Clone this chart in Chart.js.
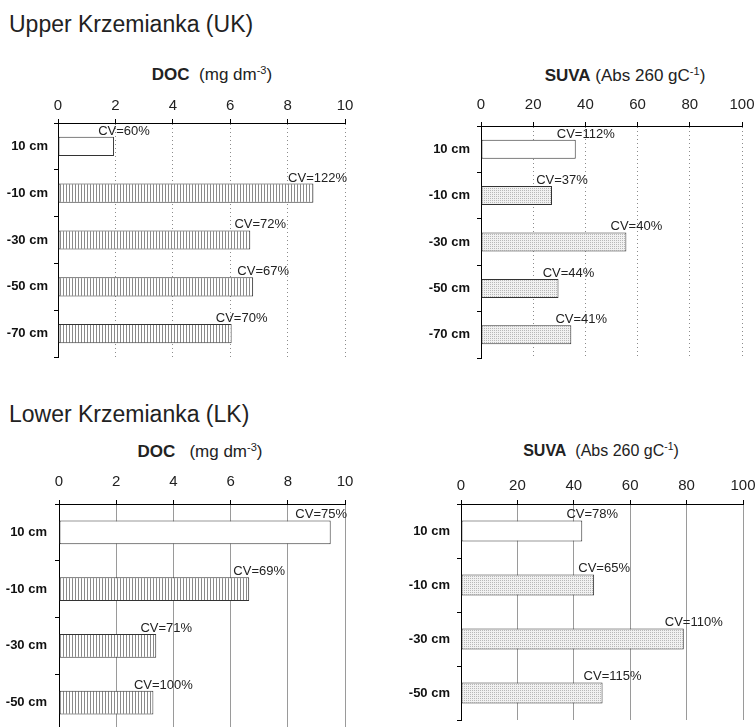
<!DOCTYPE html>
<html>
<head>
<meta charset="utf-8">
<script src="https://cdn.jsdelivr.net/npm/chart.js@4/dist/chart.umd.min.js"></script>
<style>
  body { margin: 0; width: 756px; height: 727px; overflow: hidden; background: #fff;
         font-family: "Liberation Sans", Arial, sans-serif; color: #222; position: relative; }
  canvas { position: absolute; }
  .sect { position: absolute; font-size: 23px; line-height: 23px; white-space: nowrap; }
  .ttl { position: absolute; width: 300px; text-align: center; line-height: 17px; white-space: nowrap; }
  .ttl b { font-weight: bold; }
  .ttl sup { font-size: 0.65em; line-height: 0; vertical-align: 0.55em; }
</style>
</head>
<body>
<div class="sect" style="left:9px; top:13px;">Upper Krzemianka (UK)</div>
<div class="sect" style="left:9px; top:403px;">Lower Krzemianka (LK)</div>

<div class="ttl" style="left:62px; top:66px; font-size:17px;"><b>DOC</b>&nbsp;&nbsp;(mg dm<sup>-3</sup>)</div>
<div class="ttl" style="left:475px; top:67px; font-size:17px;"><b>SUVA</b> (Abs 260 gC<sup>-1</sup>)</div>
<div class="ttl" style="left:50px; top:443px; font-size:17px;"><b>DOC</b>&nbsp;&nbsp;&nbsp;(mg dm<sup>-3</sup>)</div>
<div class="ttl" style="left:451px; top:442px; font-size:16px;"><b>SUVA</b>&nbsp; (Abs 260 gC<sup>-1</sup>)</div>

<canvas id="ukDoc" width="380" height="282" style="left:0px; top:80px;"></canvas>
<canvas id="ukSuva" width="356" height="282" style="left:400px; top:80px;"></canvas>
<canvas id="lkDoc" width="380" height="275" style="left:0px; top:460px;"></canvas>
<canvas id="lkSuva" width="366" height="275" style="left:390px; top:460px;"></canvas>

<script>
// depth categories
const depthsUK = ["10 cm", "-10 cm", "-30 cm", "-50 cm", "-70 cm"];
const depthsLK = ["10 cm", "-10 cm", "-30 cm", "-50 cm"];

// mean values and coefficients of variation
const docUK = [1.95, 8.9, 6.7, 6.8, 6.05];
const docUKcv = [60, 122, 72, 67, 70];
const suvaUK = [36.3, 27.2, 55.7, 29.7, 34.6];
const suvaUKcv = [112, 37, 40, 44, 41];
const docLK = [9.5, 6.65, 3.4, 3.3];
const docLKcv = [75, 69, 71, 100];
const suvaLK = [43, 47.2, 79, 50.2];
const suvaLKcv = [78, 65, 110, 115];

// axis ranges
const docMax = 10, docStep = 2;
const suvaMax = 100, suvaStep = 20;

Chart.defaults.font.family = '"Liberation Sans", Arial, sans-serif';

// hatch fills
function stripePattern() {
    const c = document.createElement("canvas");
    c.width = 3; c.height = 1;
    const g = c.getContext("2d");
    g.fillStyle = "#fff"; g.fillRect(0, 0, 3, 1);
    g.fillStyle = "#8a8a8a"; g.fillRect(0, 0, 1, 1);
    return g.createPattern(c, "repeat");
}
function dotPattern() {
    const c = document.createElement("canvas");
    c.width = 2; c.height = 2;
    const g = c.getContext("2d");
    g.fillStyle = "#f1f1f1"; g.fillRect(0, 0, 2, 2);
    g.fillStyle = "#b8b8b8"; g.fillRect(0, 0, 1, 1);
    return g.createPattern(c, "repeat");
}

// CV labels above each bar
const cvLabels = {
    id: "cvLabels",
    afterDatasetsDraw(chart, args, opts) {
        const ctx = chart.ctx;
        const meta = chart.getDatasetMeta(0);
        ctx.save();
        ctx.font = '13px "Liberation Sans", Arial, sans-serif';
        ctx.fillStyle = "#222";
        ctx.textAlign = "center";
        ctx.textBaseline = "alphabetic";
        meta.data.forEach((bar, i) => {
            const text = "CV=" + opts.cv[i] + "%";
            const w = ctx.measureText(text).width;
            let x = bar.x + 10;
            x = Math.min(x, chart.chartArea.right + 2 - w / 2);
            ctx.fillText(text, x, bar.y - bar.height / 2 - 2);
        });
        ctx.restore();
    }
};

function makeChart(id, labels, values, cv, fill, max, step, lay) {
    const ctx = document.getElementById(id).getContext("2d");
    return new Chart(ctx, {
        type: "bar",
        data: {
            labels: labels,
            datasets: [{
                data: values,
                backgroundColor: values.map((v, i) => i === 0 ? "#fff" : fill),
                borderColor: "#333",
                borderWidth: 1,
                borderSkipped: false,
                barPercentage: lay.bar,
                categoryPercentage: 1
            }]
        },
        options: {
            indexAxis: "y",
            responsive: false,
            animation: false,
            layout: { padding: { left: 0, top: 0, right: lay.pr, bottom: lay.pb } },
            plugins: {
                legend: { display: false },
                tooltip: { enabled: false },
                cvLabels: { cv: cv }
            },
            scales: {
                x: {
                    type: "linear",
                    position: "top",
                    min: 0,
                    max: max,
                    ticks: { stepSize: step, color: "#222", font: { size: 15 }, padding: lay.xpad },
                    grid: { color: lay.dotted ? "#8c8c8c" : "#9a9a9a", lineWidth: 1, tickColor: "#000", tickLength: 4 },
                    border: { color: "#000", dash: lay.dotted ? [1, 3] : [] },
                    afterFit: s => { s.height = lay.xh; s.paddingLeft = 0; s.paddingRight = 0; }
                },
                y: {
                    ticks: { color: "#111", font: { size: 13, weight: "bold" }, padding: lay.ypad },
                    grid: { drawOnChartArea: false, tickColor: "#000", tickLength: 4, offset: true },
                    border: { color: "#000" },
                    afterFit: s => { s.width = lay.yw; s.paddingTop = 0; s.paddingBottom = 0; }
                }
            }
        },
        plugins: [cvLabels]
    });
}

const stripes = stripePattern();
const dots = dotPattern();

makeChart("ukDoc", depthsUK, docUK, docUKcv, stripes, docMax, docStep,
    { yw: 58, xh: 43, pr: 35, pb: 5, xpad: 4, ypad: 6, bar: 0.41, dotted: true });
makeChart("ukSuva", depthsUK, suvaUK, suvaUKcv, dots, suvaMax, suvaStep,
    { yw: 81, xh: 46, pr: 14, pb: 4, xpad: 8, ypad: 7, bar: 0.41, dotted: true });
makeChart("lkDoc", depthsLK, docLK, docLKcv, stripes, docMax, docStep,
    { yw: 59, xh: 44, pr: 35, pb: 4, xpad: 9, ypad: 8, bar: 0.42, dotted: false });
makeChart("lkSuva", depthsLK, suvaLK, suvaLKcv, dots, suvaMax, suvaStep,
    { yw: 71, xh: 44, pr: 13, pb: 15, xpad: 5, ypad: 7, bar: 0.39, dotted: false });
</script>
</body>
</html>
